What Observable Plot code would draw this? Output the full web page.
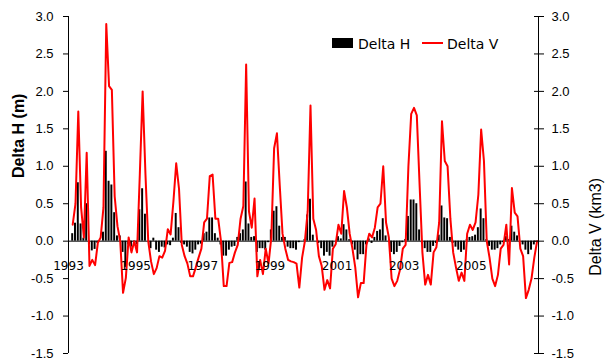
<!DOCTYPE html>
<html><head><meta charset="utf-8">
<script src="https://cdn.jsdelivr.net/npm/d3@7"></script>
<script src="https://cdn.jsdelivr.net/npm/@observablehq/plot@0.6"></script>
<style>
body{margin:0;background:#fff;}
#wrap{position:relative;width:605px;height:362px;overflow:hidden;}
#wrap svg{position:absolute;left:0;top:0;}
</style></head><body><div id="wrap"></div>
<script>
// Monthly series, February 1993 .. December 2006
const startYear = 1993, startMonth = 2;
const deltaH = [
 0.1,0.24,0.78,0.23,0.04,0.5,-0.05,-0.13,-0.11,-0.03,0.0,0.12,
 1.2,0.8,0.75,0.38,0.07,0.07,-0.15,-0.35,-0.05,-0.08,-0.02,-0.05,
 0.42,0.7,0.36,0.0,-0.1,0.04,-0.12,-0.15,-0.08,-0.09,-0.05,-0.06,
 0.04,0.37,0.18,-0.03,-0.05,-0.08,-0.15,-0.17,-0.12,-0.05,-0.04,0.1,
 0.12,0.31,0.31,0.1,0.04,-0.05,-0.2,-0.2,-0.12,-0.08,-0.07,0.05,
 0.1,0.15,0.79,0.23,0.05,0.06,-0.15,-0.1,-0.1,-0.12,-0.02,0.15,
 0.4,0.46,0.2,0.05,0.05,-0.08,-0.1,-0.1,-0.12,-0.02,0.0,0.02,
 0.35,0.56,0.08,0.0,-0.03,-0.1,-0.2,-0.15,-0.2,-0.08,0.0,0.06,
 0.03,0.22,0.15,0.02,-0.05,-0.12,-0.25,-0.18,-0.18,-0.05,0.03,-0.03,
 0.05,0.13,0.15,0.3,0.07,0.0,-0.15,-0.18,-0.15,-0.07,-0.02,0.02,
 0.33,0.55,0.55,0.5,0.15,-0.03,-0.1,-0.15,-0.15,-0.07,-0.03,0.08,
 0.47,0.31,0.3,0.05,-0.03,-0.08,-0.12,-0.15,-0.12,0.02,0.05,0.06,
 0.08,0.18,0.43,0.3,0.02,-0.07,-0.12,-0.12,-0.1,-0.05,-0.02,0.06,
 0.02,0.2,0.12,0.07,0.0,-0.05,-0.12,-0.18,-0.12,-0.05,0.0
];
const deltaV = [
 0.22,0.5,1.73,0.45,0.05,1.18,-0.33,-0.25,-0.32,-0.02,0.05,0.45,
 2.9,2.07,2.02,0.6,0.2,0.0,-0.69,-0.49,0.05,-0.15,0.0,-0.15,
 0.9,2.0,0.9,0.0,-0.27,-0.44,-0.36,-0.2,-0.22,-0.13,0.16,0.09,
 0.53,1.04,0.7,-0.05,-0.2,-0.3,-0.47,-0.47,-0.35,-0.22,-0.1,0.25,
 0.3,0.87,0.89,0.3,0.3,0.0,-0.6,-0.6,-0.29,-0.28,-0.15,-0.05,
 0.3,0.47,2.36,0.4,0.18,0.57,-0.47,-0.25,-0.44,-0.1,-0.3,0.05,
 1.24,1.44,0.75,0.1,-0.1,-0.25,-0.27,-0.28,-0.3,-0.62,-0.22,0.0,
 0.4,1.81,0.3,0.15,-0.2,-0.33,-0.65,-0.52,-0.63,-0.1,-0.04,0.22,
 0.1,0.67,0.45,0.1,-0.1,-0.35,-0.75,-0.56,-0.56,-0.05,0.1,0.05,
 0.18,0.45,0.5,1.0,0.25,0.05,-0.5,-0.6,-0.53,-0.38,-0.1,-0.05,
 1.0,1.7,1.78,1.68,0.75,-0.15,-0.58,-0.45,-0.58,-0.15,-0.08,0.25,
 1.6,1.07,1.0,0.3,-0.15,-0.35,-0.53,-0.42,-0.53,0.1,0.22,0.15,
 0.25,0.62,1.49,1.07,0.0,-0.22,-0.5,-0.6,-0.45,-0.1,-0.05,0.22,
 -0.31,0.71,0.38,0.33,-0.1,-0.2,-0.76,-0.65,-0.5,-0.22,0.0
];
const yTicks = [-1.5,-1.0,-0.5,0.0,0.5,1.0,1.5,2.0,2.5,3.0];
const yearLabels = [1993,1995,1997,1999,2001,2003,2005];
const xDomain = [1993, 2007];
const yDomain = [-1.5, 3.0];
const seriesNames = ["Delta H", "Delta V"];
const axisTitles = ["Delta H (m)", "Delta V (km3)"];

const data = deltaH.map((h, i) => ({
  t: startYear + (startMonth - 1 + i + 0.5) / 12,
  h, v: deltaV[i]
}));
const half = 0.35 / 12;
const fmt = d => d.toFixed(1);

const plot = Plot.plot({
  width: 605, height: 362,
  marginLeft: 68, marginRight: 67, marginTop: 16, marginBottom: 9,
  x: {domain: xDomain, axis: null},
  y: {domain: yDomain, axis: null},
  style: {fontFamily: "'Liberation Sans', Arial, sans-serif", fontSize: "13px", color: "#000", background: "#fff"},
  marks: [
    Plot.rectY(data, {x1: d => d.t - half, x2: d => d.t + half, y1: 0, y2: "h", fill: "#000"}),
    Plot.ruleY([0], {stroke: "#000", strokeWidth: 1}),
    Plot.line(data, {x: "t", y: "v", stroke: "#ff0000", strokeWidth: 2}),
    Plot.text(yearLabels, {x: d => d, y: 0, text: d => String(d), dy: 25, fontFamily: "DejaVu Sans", fontSize: 12, fill: "#000"}),
    Plot.ruleX(xDomain, {stroke: "#000", strokeWidth: 1}),
    Plot.axisY({anchor: "left", ticks: yTicks, tickSize: 5, tickPadding: 10, tickFormat: fmt, label: null, fontSize: 13}),
    Plot.axisY({anchor: "right", ticks: yTicks, tickSize: 5, tickPadding: 8, tickFormat: fmt, label: null, fontSize: 13}),
    Plot.axisY({anchor: "right", ticks: yTicks, tickSize: 5, dx: -5, fill: "none", label: null}),
    Plot.text([axisTitles[0]], {frameAnchor: "left", dx: -50, dy: -7, rotate: -90, text: d => d, fontWeight: "bold", fontSize: 16, fill: "#000"}),
    Plot.text([axisTitles[1]], {frameAnchor: "right", dx: 57, dy: -7, rotate: -90, text: d => d, fontSize: 16, fill: "#000"})
  ]
});
const wrap = document.getElementById("wrap");
wrap.appendChild(plot);

// legend overlay
const leg = d3.select(wrap).append("svg").attr("width", 605).attr("height", 362)
  .style("pointer-events", "none");
const lf = {family: "DejaVu Sans", size: 14};
leg.append("rect").attr("x", 332).attr("y", 38).attr("width", 21).attr("height", 10).attr("fill", "#000");
leg.append("text").attr("x", 358).attr("y", 49).attr("font-family", lf.family).attr("font-size", lf.size).attr("fill", "#000").text(seriesNames[0]);
leg.append("line").attr("x1", 422).attr("x2", 443).attr("y1", 43).attr("y2", 43).attr("stroke", "#ff0000").attr("stroke-width", 2);
leg.append("text").attr("x", 447).attr("y", 49).attr("font-family", lf.family).attr("font-size", lf.size).attr("fill", "#000").text(seriesNames[1]);
</script></body></html>
